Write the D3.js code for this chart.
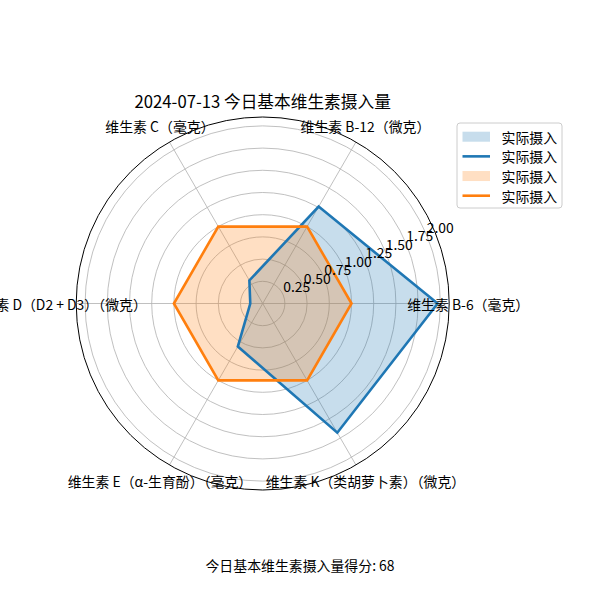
<!DOCTYPE html>
<html>
<head>
<meta charset="utf-8">
<script src="https://cdn.jsdelivr.net/npm/d3@7"></script>
<style>
  html, body { margin: 0; padding: 0; background: #fff; }
  svg { display: block; font-family: "Noto Sans CJK SC", "DejaVu Sans", sans-serif; }
</style>
</head>
<body>
<svg id="chart" width="600" height="600"></svg>
<script>
const categories = [
  "维生素 B-6（毫克）",
  "维生素 B-12（微克）",
  "维生素 C（毫克）",
  "维生素 D（D2 + D3）（微克）",
  "维生素 E（α-生育酚）（毫克）",
  "维生素 K（类胡萝卜素）（微克）"
];
const actualValues = [1.97, 1.26, 0.30, 0.14, 0.56, 1.68];
const recommendedValues = [1, 1, 1, 1, 1, 1];
const radialTicks = [0.25, 0.5, 0.75, 1.0, 1.25, 1.5, 1.75, 2.0];
const radialMax = 2.1;
const legendLabels = ["实际摄入", "实际摄入", "实际摄入", "实际摄入"];
const titleText = "2024-07-13 今日基本维生素摄入量";
const footerText = "今日基本维生素摄入量得分: 68";

const svg = d3.select("#chart");
const cx = 262.7, cy = 303.5, R = 186.5;
const rScale = d3.scaleLinear().domain([0, radialMax]).range([0, R]);
const aScale = d3.scaleLinear().domain([0, categories.length]).range([0, 2 * Math.PI]);

const g = svg.append("g").attr("transform", `translate(${cx},${cy})`);
const px = (a, r) => r * Math.cos(a);
const py = (a, r) => -r * Math.sin(a);

// grid circles
g.selectAll("circle.grid").data(radialTicks).join("circle")
  .attr("class", "grid")
  .attr("r", d => rScale(d))
  .attr("fill", "none").attr("stroke", "#b0b0b0").attr("stroke-width", 0.8);

// spokes
g.selectAll("line.spoke").data(categories).join("line")
  .attr("x1", 0).attr("y1", 0)
  .attr("x2", (d, i) => px(aScale(i), R))
  .attr("y2", (d, i) => py(aScale(i), R))
  .attr("stroke", "#b0b0b0").attr("stroke-width", 0.8);

const radial = d3.lineRadial()
  .angle((d, i) => Math.PI / 2 - aScale(i))
  .radius(d => rScale(d))
  .curve(d3.curveLinearClosed);

const series = [
  { values: actualValues, color: "#1f77b4" },
  { values: recommendedValues, color: "#ff7f0e" }
];
series.forEach(s => {
  g.append("path").attr("d", radial(s.values))
    .attr("fill", s.color).attr("fill-opacity", 0.25).attr("stroke", "none");
});
series.forEach(s => {
  g.append("path").attr("d", radial(s.values))
    .attr("fill", "none").attr("stroke", s.color).attr("stroke-width", 2.6)
    .attr("stroke-linejoin", "miter");
});

// outer spine
g.append("circle").attr("r", R).attr("fill", "none").attr("stroke", "#000").attr("stroke-width", 1);

// radial tick labels at 22.5 deg
const labA = 22.5 * Math.PI / 180;
g.selectAll("text.rtick").data(radialTicks).join("text")
  .attr("x", d => px(labA, rScale(d)))
  .attr("y", d => py(labA, rScale(d)) - 3)
  .attr("text-anchor", "start")
  .attr("font-size", "13.9px")
  .attr("fill", "#000")
  .text(d => d.toFixed(2));

// category labels
const labR = R + 19;
g.selectAll("text.cat").data(categories).join("text")
  .attr("x", (d, i) => px(aScale(i), labR))
  .attr("y", (d, i) => py(aScale(i), labR))
  .attr("text-anchor", "middle")
  .attr("dominant-baseline", "central")
  .attr("font-size", "13.9px")
  .attr("fill", "#000")
  .text(d => d);

// title
svg.append("text").attr("x", cx).attr("y", 101)
  .attr("text-anchor", "middle").attr("dominant-baseline", "central")
  .attr("font-size", "16.7px").attr("fill", "#000").text(titleText);

// footer
svg.append("text").attr("x", 300).attr("y", 565)
  .attr("text-anchor", "middle").attr("dominant-baseline", "central")
  .attr("font-size", "13.9px").attr("fill", "#000").text(footerText);

// legend
const lg = svg.append("g").attr("transform", "translate(457,123)");
lg.append("rect").attr("width", 105).attr("height", 85).attr("rx", 3)
  .attr("fill", "#fff").attr("fill-opacity", 0.8)
  .attr("stroke", "#cccccc").attr("stroke-width", 1);
const legendItems = [
  { type: "patch", color: "#1f77b4" },
  { type: "line", color: "#1f77b4" },
  { type: "patch", color: "#ff7f0e" },
  { type: "line", color: "#ff7f0e" }
];
const rowY = d3.scaleLinear().domain([0, 3]).range([13.7, 72.7]);
legendItems.forEach((it, i) => {
  const y = rowY(i);
  if (it.type === "patch") {
    lg.append("rect").attr("x", 5.5).attr("y", y - 5).attr("width", 27.5).attr("height", 10)
      .attr("fill", it.color).attr("fill-opacity", 0.25);
  } else {
    lg.append("line").attr("x1", 5.5).attr("x2", 33).attr("y1", y).attr("y2", y)
      .attr("stroke", it.color).attr("stroke-width", 2.6);
  }
  lg.append("text").attr("x", 44.5).attr("y", y)
    .attr("dominant-baseline", "central").attr("font-size", "13.9px").attr("fill", "#000")
    .text(legendLabels[i]);
});
</script>
</body>
</html>
